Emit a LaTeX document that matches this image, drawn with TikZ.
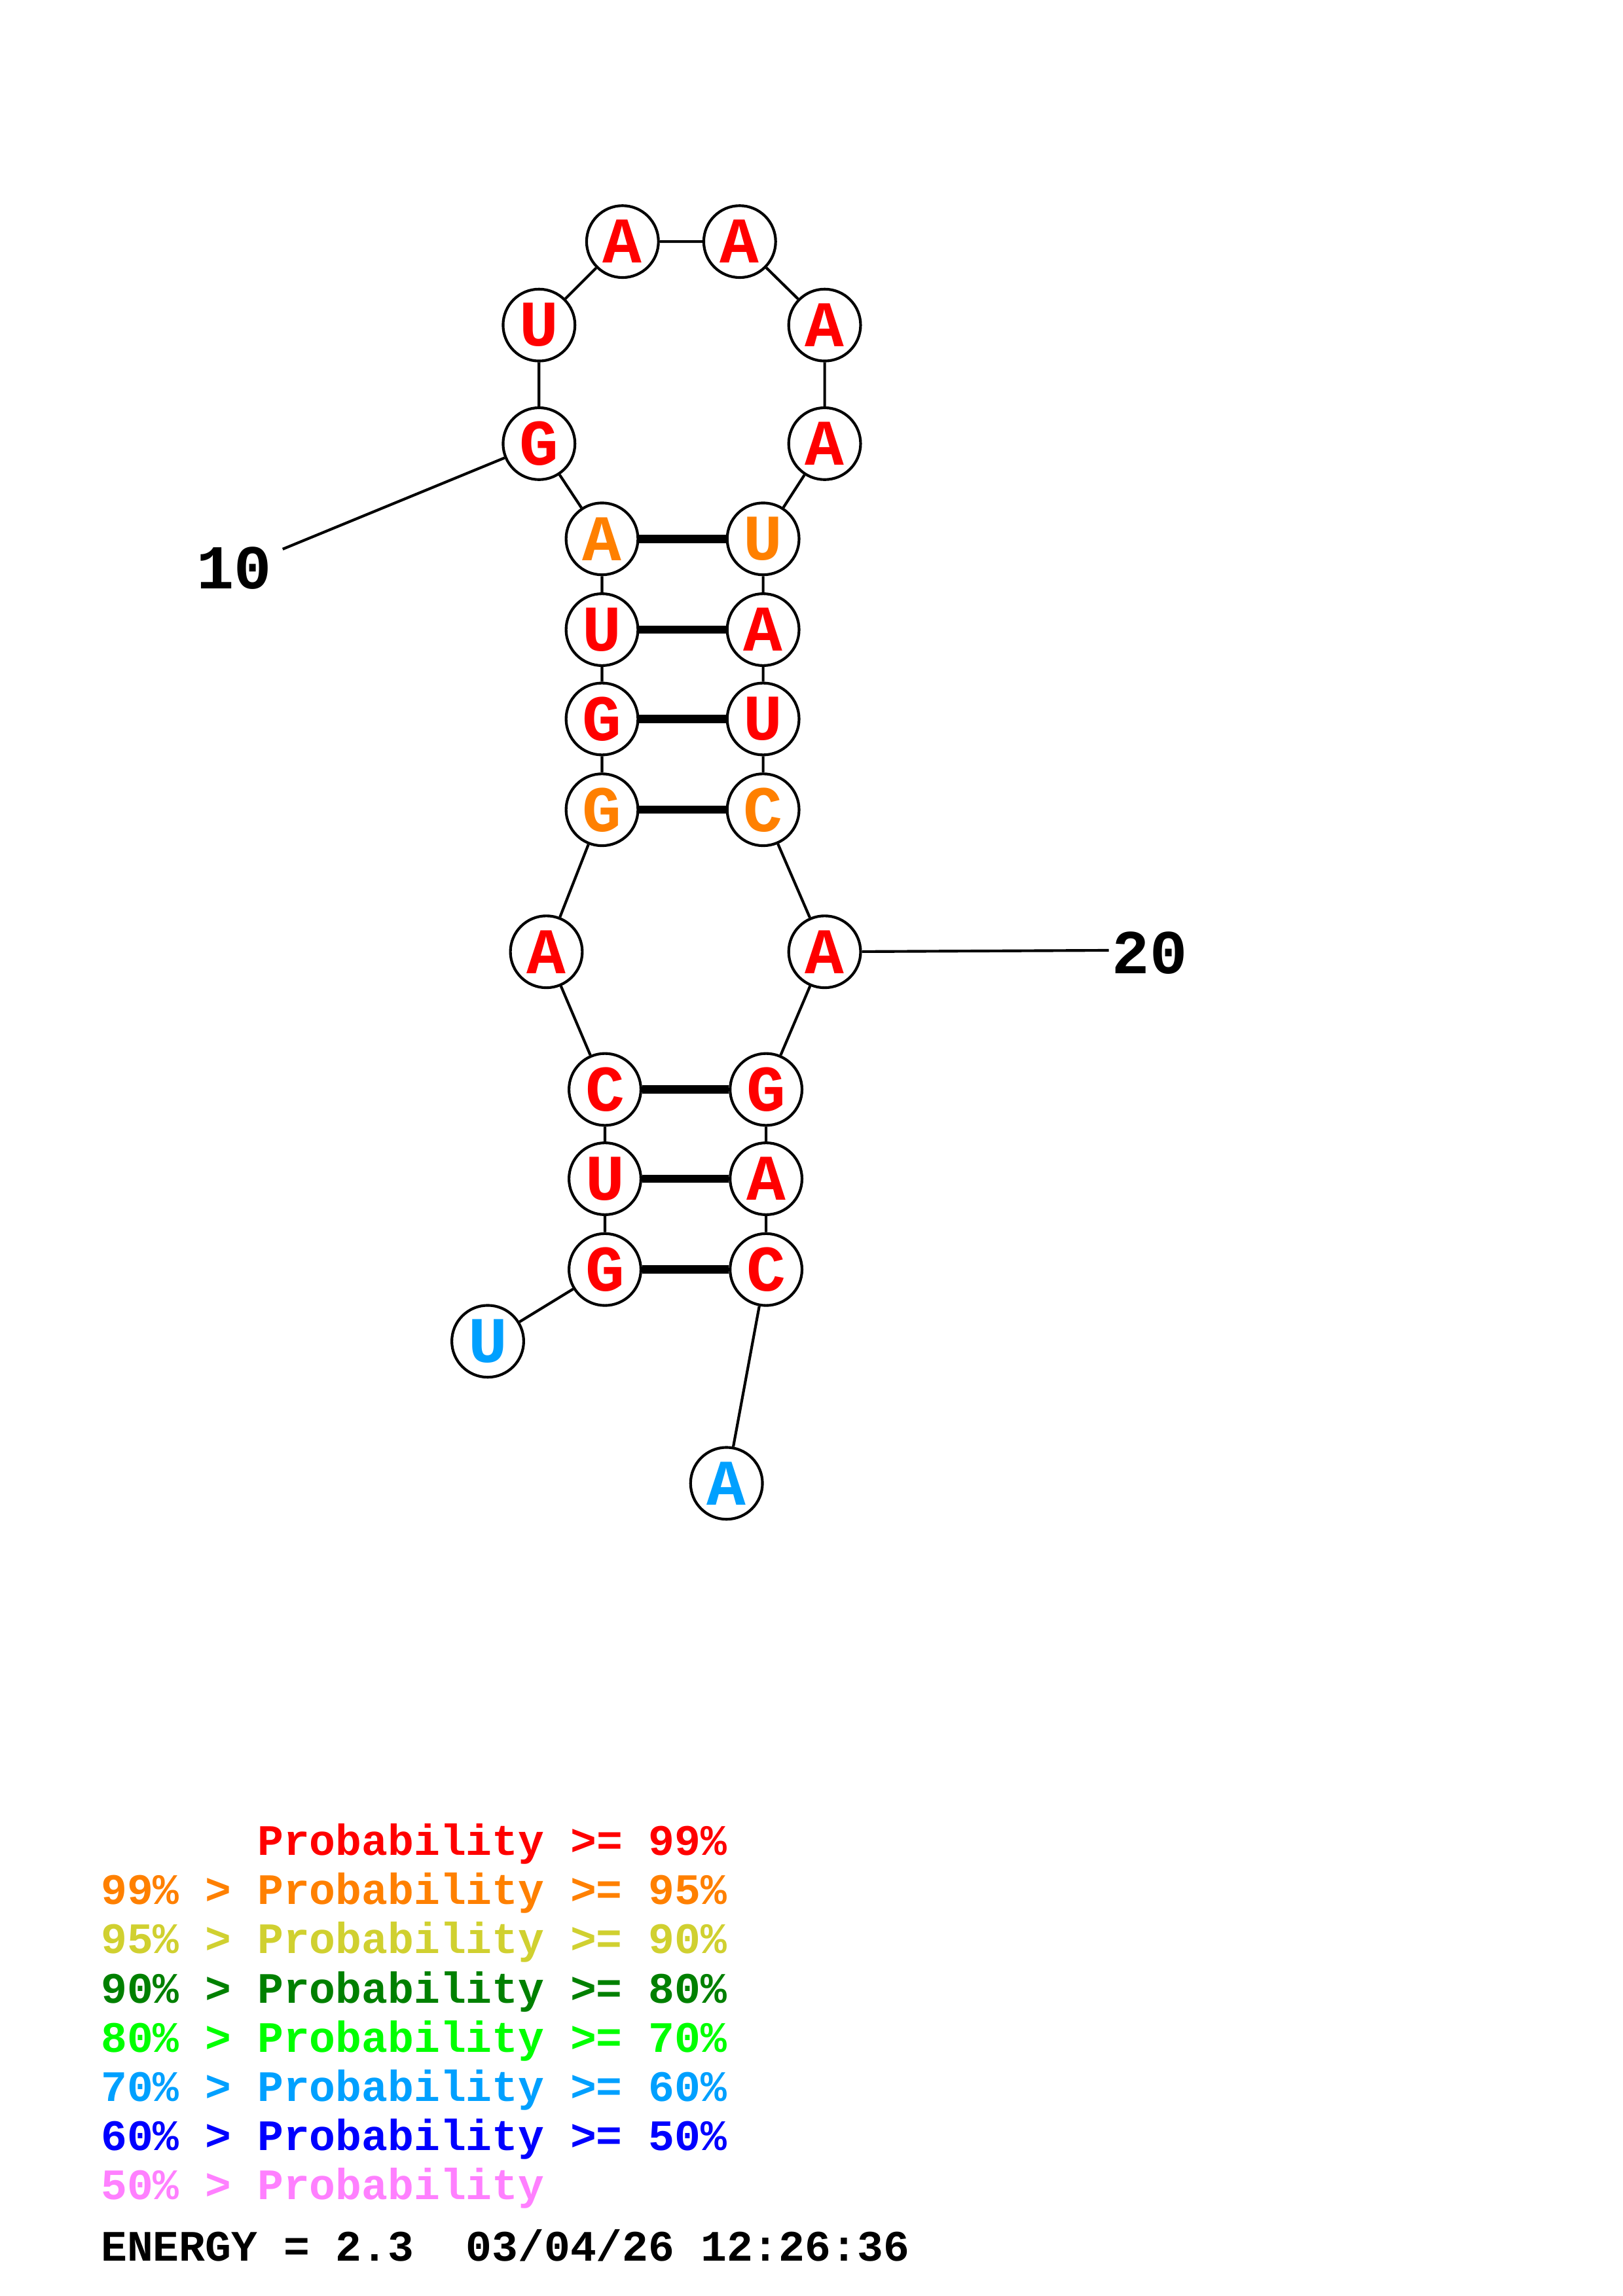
\documentclass[tikz,border=0pt]{standalone}
\usepackage{fontspec}
\newfontfamily\rnafont{Liberation Mono}
\definecolor{p99}{RGB}{255,0,0}
\definecolor{p95}{RGB}{255,128,0}
\definecolor{p90}{RGB}{208,208,48}
\definecolor{p80}{RGB}{0,128,0}
\definecolor{p70}{RGB}{0,255,0}
\definecolor{p60}{RGB}{0,160,255}
\definecolor{p50}{RGB}{0,0,255}
\definecolor{plow}{RGB}{255,128,255}
\tikzset{every picture/.style={line width=1pt}}
\tikzset{
  nt/.style={circle, draw, fill=white, minimum size=0.93cm, inner sep=0pt,
    font=\rnafont\bfseries\fontsize{24}{24}\selectfont},
  pair/.style={line width=3pt},
  numlbl/.style={font=\rnafont\bfseries\fontsize{23}{23}\selectfont},
  legend/.style={anchor=base west, inner sep=0pt,
    font=\rnafont\bfseries\fontsize{16}{16}\selectfont}
}

\begin{document}
\begin{tikzpicture}[x=0.018953cm, y=-0.018953cm]
  \useasboundingbox (0,0) rectangle (1108,1568);
  % bases
  \node[nt, text=p60] (n1) at (333,916) {U};
  \node[nt, text=p99] (n2) at (413,867) {G};
  \node[nt, text=p99] (n3) at (413,805) {U};
  \node[nt, text=p99] (n4) at (413,744) {C};
  \node[nt, text=p99] (n5) at (373,650) {A};
  \node[nt, text=p95] (n6) at (411,553) {G};
  \node[nt, text=p99] (n7) at (411,491) {G};
  \node[nt, text=p99] (n8) at (411,430) {U};
  \node[nt, text=p95] (n9) at (411,368) {A};
  \node[nt, text=p99] (n10) at (368,303) {G};
  \node[nt, text=p99] (n11) at (368,222) {U};
  \node[nt, text=p99] (n12) at (425,165) {A};
  \node[nt, text=p99] (n13) at (505,165) {A};
  \node[nt, text=p99] (n14) at (563,222) {A};
  \node[nt, text=p99] (n15) at (563,303) {A};
  \node[nt, text=p95] (n16) at (521,368) {U};
  \node[nt, text=p99] (n17) at (521,430) {A};
  \node[nt, text=p99] (n18) at (521,491) {U};
  \node[nt, text=p95] (n19) at (521,553) {C};
  \node[nt, text=p99] (n20) at (563,650) {A};
  \node[nt, text=p99] (n21) at (523,744) {G};
  \node[nt, text=p99] (n22) at (523,805) {A};
  \node[nt, text=p99] (n23) at (523,867) {C};
  \node[nt, text=p60] (n24) at (496,1013) {A};
  % backbone
  \draw (n1) -- (n2) -- (n3) -- (n4) -- (n5) -- (n6) -- (n7) -- (n8) -- (n9)
    -- (n10) -- (n11) -- (n12) -- (n13) -- (n14) -- (n15) -- (n16) -- (n17)
    -- (n18) -- (n19) -- (n20) -- (n21) -- (n22) -- (n23) -- (n24);
  % pairs
  \draw[pair] (n9) -- (n16);
  \draw[pair] (n8) -- (n17);
  \draw[pair] (n7) -- (n18);
  \draw[pair] (n6) -- (n19);
  \draw[pair] (n4) -- (n21);
  \draw[pair] (n3) -- (n22);
  \draw[pair] (n2) -- (n23);
  % numbering
  \coordinate (t10) at (193,375);
  \coordinate (t20) at (757,649);
  \node[numlbl] (l10) at (160,388) {10};
  \node[numlbl] (l20) at (785,651) {20};
  \draw (n10) -- (t10);
  \draw (n20) -- (t20);
  % legend
  \node[legend, text=p99] (k99) at (68,1267) {\hphantom{99\% > }Probability >= 99\%};
  \node[legend, text=p95] (k95) at (68,1300.6) {99\% > Probability >= 95\%};
  \node[legend, text=p90] (k90) at (68,1334.2) {95\% > Probability >= 90\%};
  \node[legend, text=p80] (k80) at (68,1367.8) {90\% > Probability >= 80\%};
  \node[legend, text=p70] (k70) at (68,1401.4) {80\% > Probability >= 70\%};
  \node[legend, text=p60] (k60) at (68,1435) {70\% > Probability >= 60\%};
  \node[legend, text=p50] (k50) at (68,1468.6) {60\% > Probability >= 50\%};
  \node[legend, text=plow] (klow) at (68,1502.2) {50\% > Probability};
  \node[legend] (energy) at (68,1544) {ENERGY = 2.3~ 03/04/26 12:26:36};
\end{tikzpicture}
\end{document}
